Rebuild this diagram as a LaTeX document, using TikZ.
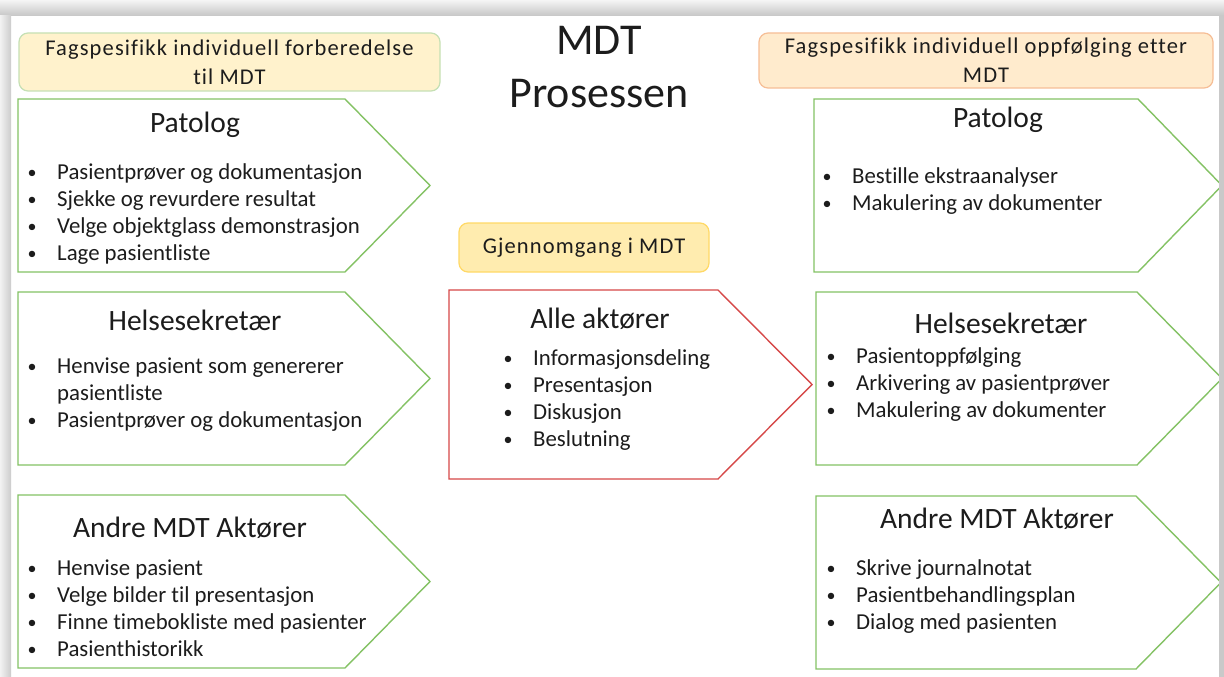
\documentclass[tikz,border=0pt]{standalone}
\usepackage{fontspec}
\setmainfont{Carlito}[Ligatures=NoCommon]
\newfontfamily\labelfont{Carlito}[Ligatures=NoCommon, LetterSpace=5]
\usetikzlibrary{calc}

\definecolor{ink}{RGB}{28,28,28}
\definecolor{grnline}{RGB}{132,194,100}
\definecolor{redline}{RGB}{214,72,72}
\definecolor{fillL}{RGB}{255,242,204}
\definecolor{lineL}{RGB}{197,224,180}
\definecolor{fillR}{RGB}{255,235,205}
\definecolor{lineR}{RGB}{246,190,150}
\definecolor{fillC}{RGB}{255,236,175}
\definecolor{lineC}{RGB}{255,217,102}

% bullet item: small bullet centred on the node's west edge, text 25pt further right
\newcommand{\itm}[1]{\makebox[0pt]{\raisebox{0.5pt}{\fontsize{18}{18}\selectfont\textbullet}}\hspace{25pt}#1}
\newcommand{\cont}[1]{\hspace{25pt}#1}

% chevron outline: style, left x, body end x, tip x, top y, bottom y
\newcommand{\chevron}[6]{%
  \draw[#1] (#2,#5) -- (#3,#5) -- (#4,{(#5+#6)/2}) -- (#3,#6) -- (#2,#6) -- cycle;}

\begin{document}
\begin{tikzpicture}[x=1pt,y=-1pt,
  every node/.style={text=ink, inner sep=0pt},
  greenbox/.style={draw=grnline, line width=1.4pt, fill=white},
  redbox/.style={draw=redline, line width=1.4pt, fill=white},
  headbox/.style={rounded corners=9pt, line width=1.2pt, align=center,
    font=\labelfont\fontsize{22.5}{29}\selectfont},
  heading/.style={anchor=base, font=\fontsize{29.5}{34}\selectfont},
  itemlist/.style={anchor=base west, font=\fontsize{22.8}{27}\selectfont}]

\useasboundingbox (0,0) rectangle (1224,677);
\fill[white] (0,0) rectangle (1224,677);

% ---------- title ----------
\node[anchor=base, font=\fontsize{44}{53}\selectfont] (title) at (599,55)
  {\begin{tabular}[t]{@{}c@{}}MDT\\Prosessen\end{tabular}};

% ---------- column headers ----------
\node[headbox, draw=lineL, fill=fillL, minimum width=421pt, minimum height=58pt]
  (hdrprep) at (229.5,62) {Fagspesifikk individuell forberedelse\\til MDT};
\node[headbox, draw=lineR, fill=fillR, minimum width=454pt, minimum height=55pt]
  (hdrfollow) at (986,60.5) {Fagspesifikk individuell oppfølging etter\\MDT};
\node[headbox, draw=lineC, fill=fillC, minimum width=250pt, minimum height=49pt]
  (hdrmeet) at (584,247.5) {Gjennomgang i MDT};

% ---------- preparation column ----------
\chevron{greenbox}{18}{345}{430}{99}{272}
\node[heading] (prepPat) at (195,132) {Patolog};
\node[itemlist] (prepPatList) at (32,179) {\begin{tabular}[t]{@{}l@{}}
  \itm{Pasientprøver og dokumentasjon}\\
  \itm{Sjekke og revurdere resultat}\\
  \itm{Velge objektglass demonstrasjon}\\
  \itm{Lage pasientliste}\end{tabular}};

\chevron{greenbox}{18}{345}{430}{292}{465}
\node[heading] (prepSek) at (195,330) {Helsesekretær};
\node[itemlist] (prepSekList) at (32,373) {\begin{tabular}[t]{@{}l@{}}
  \itm{Henvise pasient som genererer}\\
  \cont{pasientliste}\\
  \itm{Pasientprøver og dokumentasjon}\end{tabular}};

\chevron{greenbox}{18}{345}{430}{495}{668}
\node[heading] (prepAndre) at (190,537) {Andre MDT Aktører};
\node[itemlist] (prepAndreList) at (32,575) {\begin{tabular}[t]{@{}l@{}}
  \itm{Henvise pasient}\\
  \itm{Velge bilder til presentasjon}\\
  \itm{Finne timebokliste med pasienter}\\
  \itm{Pasienthistorikk}\end{tabular}};

% ---------- meeting ----------
\chevron{redbox}{449}{718}{812}{290}{479}
\node[heading] (meetAll) at (600,328) {Alle aktører};
\node[itemlist] (meetList) at (508,365) {\begin{tabular}[t]{@{}l@{}}
  \itm{Informasjonsdeling}\\
  \itm{Presentasjon}\\
  \itm{Diskusjon}\\
  \itm{Beslutning}\end{tabular}};

% ---------- follow-up column ----------
\chevron{greenbox}{814}{1138}{1222}{99}{272}
\node[heading] (follPat) at (998,128) {Patolog};
\node[itemlist] (follPatList) at (827,183) {\begin{tabular}[t]{@{}l@{}}
  \itm{Bestille ekstraanalyser}\\
  \itm{Makulering av dokumenter}\end{tabular}};

\chevron{greenbox}{816}{1137}{1222}{292}{465}
\node[heading] (follSek) at (1001,333) {Helsesekretær};
\node[itemlist] (follSekList) at (831,363) {\begin{tabular}[t]{@{}l@{}}
  \itm{Pasientoppfølging}\\
  \itm{Arkivering av pasientprøver}\\
  \itm{Makulering av dokumenter}\end{tabular}};

\chevron{greenbox}{816}{1136}{1221}{496}{669}
\node[heading] (follAndre) at (997,528) {Andre MDT Aktører};
\node[itemlist] (follAndreList) at (831,575) {\begin{tabular}[t]{@{}l@{}}
  \itm{Skrive journalnotat}\\
  \itm{Pasientbehandlingsplan}\\
  \itm{Dialog med pasienten}\end{tabular}};

% ---------- window frame ----------
\shade[top color=gray!8, bottom color=gray!45] (0,0) rectangle (1224,16);
\shade[left color=gray!10, right color=gray!40] (0,16) rectangle (11,677);
\fill[gray!42] (1219,16) rectangle (1224,677);
\end{tikzpicture}
\end{document}
